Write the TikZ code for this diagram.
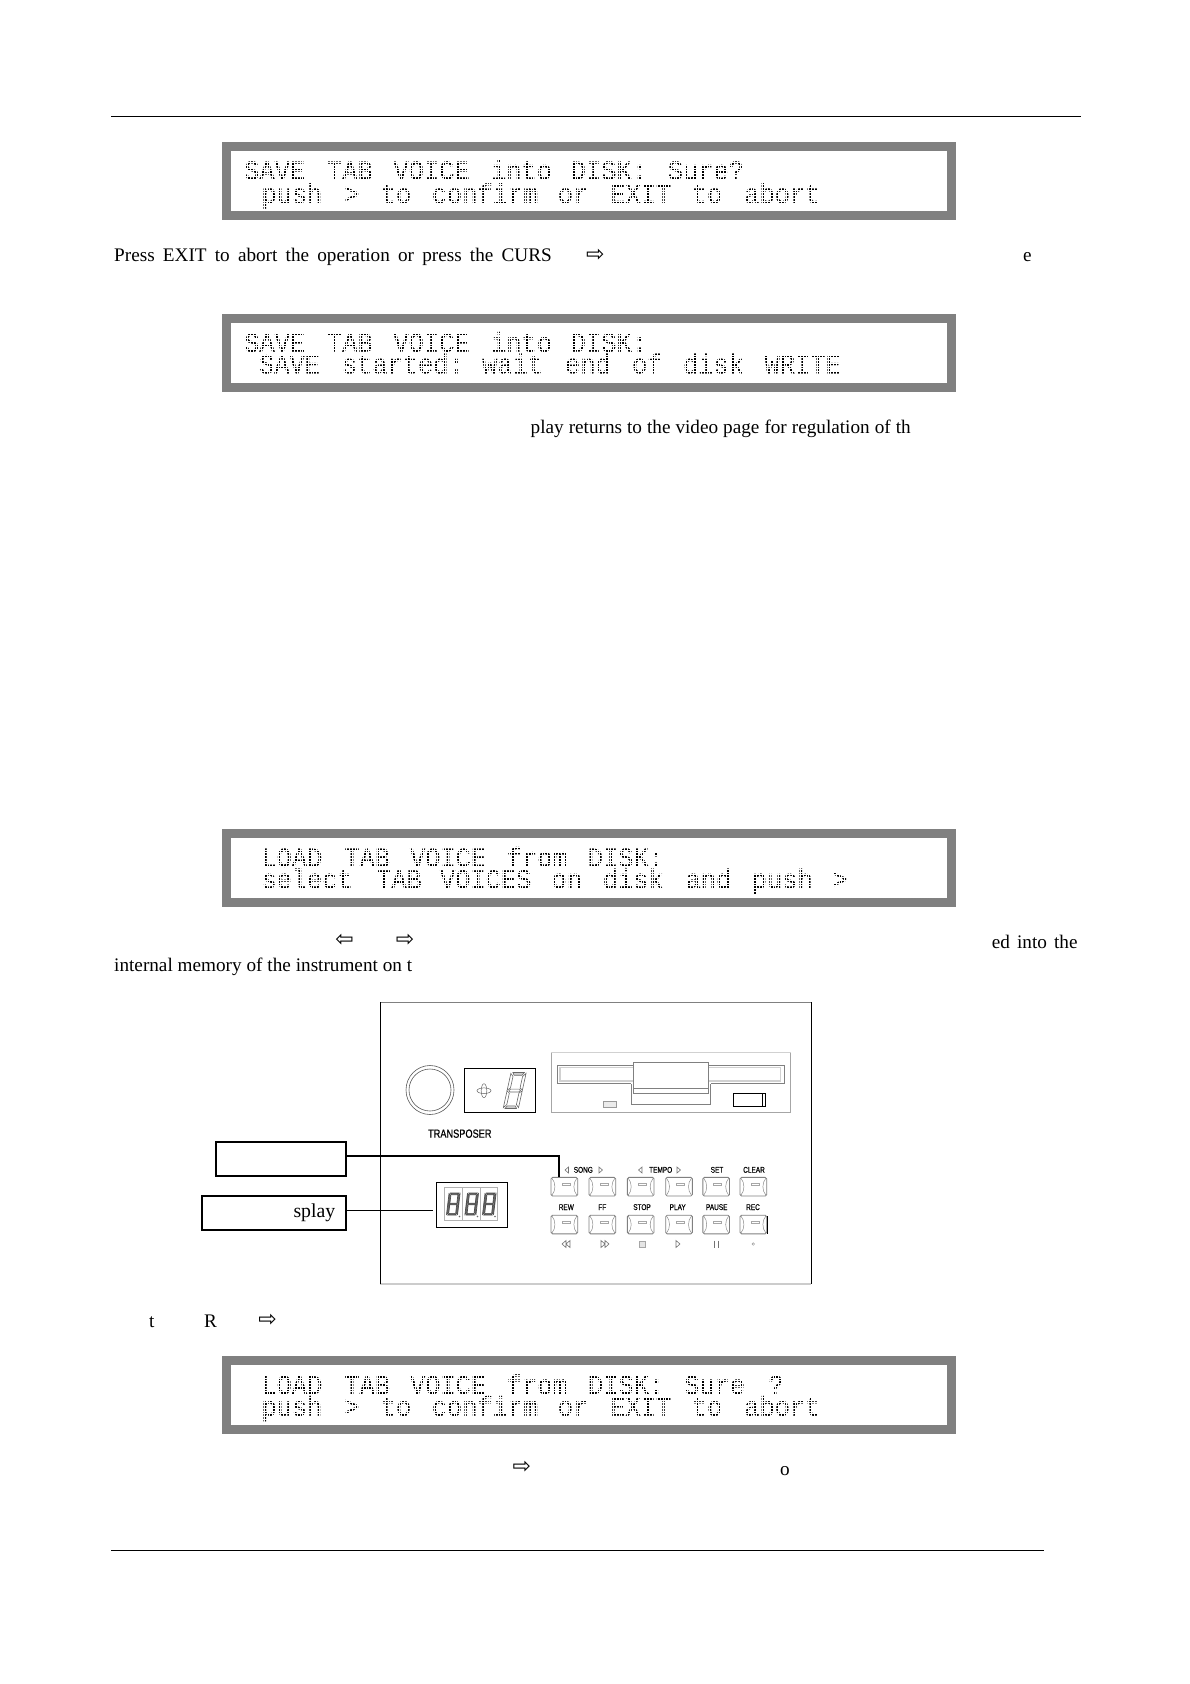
\documentclass[tikz,border=0pt]{standalone}
\usepackage{fontspec}
\setmainfont{Liberation Serif}
\newfontfamily\lcdfont[FakeStretch=.93,FakeBold=.7]{Liberation Mono}
\newfontfamily\panelfont[FakeStretch=.78,FakeBold=.4]{Liberation Sans}
\newfontfamily\arrowfont{DejaVu Sans}
\definecolor{lcdgray}{RGB}{128,128,128}
\tikzset{
  bodytext/.style={anchor=base west,inner sep=0pt,font=\fontsize{19.2}{23}\selectfont},
  arrowglyph/.style={anchor=center,inner sep=0pt,font=\arrowfont\fontsize{22}{24}\selectfont},
  lcdtext/.style={anchor=base west,inner sep=0pt,text=black,font=\lcdfont\fontsize{27.3}{30}\selectfont},
  lcdframe/.style={rectangle,inner sep=0pt,fill=lcdgray,minimum width=733.5pt,minimum height=78pt},
  lcdscreen/.style={rectangle,inner sep=0pt,fill=white,minimum width=715.5pt,minimum height=60pt},
  lcddots/.style={white,line width=.5pt,step=2.75pt},
  calloutbox/.style={rectangle,draw=black,line width=1.7pt,fill=white,inner sep=0pt},
  keylabel/.style={anchor=base,inner sep=0pt,text=black,font=\panelfont\fontsize{8.3}{9}\selectfont},
  btnbox/.style={rectangle,draw=black!50,line width=.8pt,rounded corners=1.5pt,inner sep=0pt,minimum width=26.7pt,minimum height=18.7pt},
  btnline/.style={draw=black!45,line width=.5pt},
  sym/.style={draw=black!55,line width=.6pt},
  seg/.style={draw=black!60,line width=.6pt},
}
% a word of LCD text in a field of fixed width
\newcommand{\lw}[2]{\makebox[#1pt][l]{#2\ }}
% seven-segment digit: centre x, centre y, half width, half height, slant, extra style, outer bar fill, other bar fill
\newcommand{\segdigit}[8]{%
  \begin{scope}[shift={(#1,#2)},xslant=#5,x=#3pt,y=-#4pt,seg,#6]
    \draw[fill=#7] (-.72,-1)--(.72,-1)--(.5,-.85)--(-.5,-.85)--cycle;
    \draw[fill=#8] (-.55,-.08)--(.55,-.08)--(.72,0)--(.55,.08)--(-.55,.08)--(-.72,0)--cycle;
    \draw[fill=#7] (-.72,1)--(.72,1)--(.5,.85)--(-.5,.85)--cycle;
    \draw[fill=#8] (-.95,-.95)--(-.6,-.78)--(-.6,-.14)--(-.95,-.02)--cycle;
    \draw[fill=#8] (.95,-.95)--(.6,-.78)--(.6,-.14)--(.95,-.02)--cycle;
    \draw[fill=#8] (-.95,.95)--(-.6,.78)--(-.6,.14)--(-.95,.02)--cycle;
    \draw[fill=#8] (.95,.95)--(.6,.78)--(.6,.14)--(.95,.02)--cycle;
  \end{scope}}
% keyboard button: name, centre x, centre y
\newcommand{\panelbtn}[3]{%
  \node[btnbox] (#1) at (#2,#3) {};
  \begin{scope}[shift={(#2,#3)}]
    \draw[btnline] (-12.5,-8.5) .. controls (-8.5,-4) and (-8.5,4) .. (-12.5,8.5);
    \draw[btnline] (12.5,-8.5) .. controls (8.5,-4) and (8.5,4) .. (12.5,8.5);
    \draw[draw=black!35,line width=.5pt] (-2.5,-3.4) rectangle (5.5,-1.3);
  \end{scope}}
\begin{document}
\begin{tikzpicture}[x=1pt,y=-1pt]
\useasboundingbox (0,0) rectangle (1190,1684);
% page rules
\draw[black,line width=1pt] (111,116) -- (1080.5,116);
\draw[black,line width=1pt] (111,1550) -- (1044,1550);

% LCD panels
\node[lcdframe] (frameA) at (588.8,181) {};
\node[lcdscreen] (screenA) at (588.8,181) {};
\node[lcdtext] (lcdA1) at (244,179.5) {\lw{82.9}{SAVE}\lw{66.4}{TAB}\lw{97.5}{VOICE}\lw{79.8}{into}\lw{97}{DISK:}Sure?};
\node[lcdtext] (lcdA2) at (261.2,203) {\lw{83}{push}\lw{36.4}{>}\lw{51}{to}\lw{126}{confirm}\lw{52.5}{or}\lw{81.5}{EXIT}\lw{52.5}{to}abort};
\draw[lcddots] (231,211) grid (946,151);

\node[lcdframe] (frameB) at (588.8,353) {};
\node[lcdscreen] (screenB) at (588.8,353) {};
\node[lcdtext] (lcdB1) at (244,351.7) {\lw{82.9}{SAVE}\lw{66.4}{TAB}\lw{97.5}{VOICE}\lw{79.8}{into}DISK:};
\node[lcdtext] (lcdB2) at (258.8,373.3) {\lw{82.9}{SAVE}\lw{140.3}{started:}\lw{82.9}{wait}\lw{67}{end}\lw{51}{of}\lw{81.6}{disk}WRITE};
\draw[lcddots] (231,383) grid (946,323);

\node[lcdframe] (frameC) at (588.8,868) {};
\node[lcdscreen] (screenC) at (588.8,868) {};
\node[lcdtext] (lcdC1) at (261.2,866.7) {\lw{83}{LOAD}\lw{65.6}{TAB}\lw{96.8}{VOICE}\lw{81}{from}DISK:};
\node[lcdtext] (lcdC2) at (261.2,888.3) {\lw{114.8}{select}\lw{63.8}{TAB}\lw{111.6}{VOICES}\lw{51.1}{on}\lw{82.9}{disk}\lw{66.2}{and}\lw{80.5}{push}>};
\draw[lcddots] (231,898) grid (946,838);

\node[lcdframe] (frameD) at (588.8,1395) {};
\node[lcdscreen] (screenD) at (588.8,1395) {};
\node[lcdtext] (lcdD1) at (261.2,1394) {\lw{83}{LOAD}\lw{65.6}{TAB}\lw{96.8}{VOICE}\lw{81.2}{from}\lw{96.3}{DISK:}\lw{84.2}{Sure}?};
\node[lcdtext] (lcdD2) at (261.2,1415.7) {\lw{83}{push}\lw{36.4}{>}\lw{51}{to}\lw{126}{confirm}\lw{52.5}{or}\lw{81.5}{EXIT}\lw{52.5}{to}abort};
\draw[lcddots] (231,1425) grid (946,1365);

% body text fragments
\node[bodytext] (t1) at (114,261) {\makebox[437.6pt][s]{Press EXIT to abort the operation or press the CURS}};
\node[arrowglyph] (a1) at (595.3,255) {⇨};
\node[bodytext] (t2) at (1023,261) {e};
\node[bodytext] (t3) at (530.5,433) {\makebox[380pt][s]{play returns to the video page for regulation of th}};
\node[arrowglyph] (a2) at (344.5,940) {⇦};
\node[arrowglyph] (a3) at (405,940) {⇨};
\node[bodytext] (t4) at (991.7,948) {\makebox[85.6pt][s]{ed into the}};
\node[bodytext] (t5) at (114,971) {\makebox[298pt][s]{internal memory of the instrument on t}};
\node[bodytext] (t6) at (149,1327) {t};
\node[bodytext] (t7) at (204,1327) {R};
\node[arrowglyph] (a4) at (267.7,1320) {⇨};
\node[arrowglyph] (a5) at (521.8,1467.7) {⇨};
\node[bodytext] (t8) at (780,1475) {o};

% device frame
\draw[black!50,line width=.8pt] (380.3,1002.3) -- (811.4,1002.3);
\draw[black!20,line width=1.3pt] (380.3,1284) -- (811.4,1284);
\draw[black,line width=.9pt] (380.3,1002.3) -- (380.3,1284);
\draw[black,line width=.9pt] (811.4,1002.3) -- (811.4,1284);

% knob
\draw[black!65,line width=.6pt] (430,1090) ellipse (24pt and 24.5pt);
\draw[black!65,line width=.6pt] (430,1090) circle (21pt);

% transposer display
\node[rectangle,draw=black,line width=.9pt,inner sep=0pt,minimum width=71.4pt,minimum height=44pt] (transdisp) at (500,1090.3) {};
\draw[black!60,line width=.5pt] (484,1090.7) ellipse (7pt and 2.8pt);
\draw[black!60,line width=.5pt] (484,1090.7) ellipse (2.8pt and 7pt);
\segdigit{514.7}{1090.5}{8}{18}{.22}{}{black!20}{white}
\node[keylabel,font=\panelfont\fontsize{11.8}{13}\selectfont] (translabel) at (459.8,1137.7) {TRANSPOSER};

% floppy drive
\draw[black!35,line width=.7pt] (551,1052.5) rectangle (790.7,1112.7);
\draw[black!18,line width=1.5pt] (551,1052.5) -- (790.7,1052.5);
\draw[black!50,line width=.6pt] (557.3,1065.7) rectangle (784,1083.3);
\draw[black!18,line width=1.4pt] (560,1067.7) rectangle (780.7,1081);
\draw[black!50,fill=white,line width=.6pt] (631,1083.3) -- (631,1104.3) -- (710.7,1104.3) -- (710.7,1083.3) -- cycle;
\draw[white,line width=1pt] (631,1083.3) -- (710.7,1083.3);
\draw[black!50,fill=white,line width=.6pt] (633.3,1062.3) rectangle (708.3,1093.3);
\draw[black!50,line width=.6pt] (633.3,1088.3) -- (708.3,1088.3);
\draw[black!40,fill=black!8,line width=.6pt] (603.3,1101.7) rectangle (616.7,1107);
\draw[black,line width=1pt] (733.3,1093.3) rectangle (765,1106.7);
\draw[black,line width=.7pt] (762.7,1093.3) -- (762.7,1106.7);

% key labels, top row
\node[keylabel] (lsong) at (583.3,1172.7) {SONG};
\node[keylabel] (ltempo) at (660.7,1172.7) {TEMPO};
\node[keylabel] (lset) at (717,1172.7) {SET};
\node[keylabel] (lclear) at (754,1172.7) {CLEAR};
\draw[sym] (568.5,1167)--(568.5,1173)--(565,1170)--cycle;
\draw[sym] (599,1167)--(599,1173)--(602.5,1170)--cycle;
\draw[sym] (642,1167)--(642,1173)--(638.5,1170)--cycle;
\draw[sym] (677,1167)--(677,1173)--(680.5,1170)--cycle;

% buttons
\panelbtn{bsong}{564.4}{1186.7}
\panelbtn{bb}{602.4}{1186.7}
\panelbtn{bc}{640.7}{1186.7}
\panelbtn{bd}{679}{1186.7}
\panelbtn{be}{716.2}{1186.7}
\panelbtn{bf}{753.4}{1186.7}
\panelbtn{brew}{564.4}{1224.5}
\panelbtn{bff}{602.4}{1224.5}
\panelbtn{bstop}{640.7}{1224.5}
\panelbtn{bplay}{679}{1224.5}
\panelbtn{bpause}{716.2}{1224.5}
\panelbtn{brec}{753.4}{1224.5}
\draw[black,line width=.9pt] (767.3,1216) -- (767.3,1233.5);

% key labels, second row
\node[keylabel] (lrew) at (566.3,1210) {REW};
\node[keylabel] (lff) at (602.3,1210) {FF};
\node[keylabel] (lstop) at (642,1210) {STOP};
\node[keylabel] (lplay) at (677.7,1210) {PLAY};
\node[keylabel] (lpause) at (716.7,1210) {PAUSE};
\node[keylabel] (lrec) at (753,1210) {REC};

% transport symbols
\draw[sym] (566,1240.5)--(566,1247.5)--(562,1244)--cycle (570,1240.5)--(570,1247.5)--(566,1244)--cycle;
\draw[sym] (601,1240.5)--(601,1247.5)--(605,1244)--cycle (605,1240.5)--(605,1247.5)--(609,1244)--cycle;
\draw[black!35,fill=black!10,line width=.6pt] (639.7,1241) rectangle (645,1247);
\draw[sym] (676,1240.5)--(676,1247.5)--(680,1244)--cycle;
\draw[sym] (714.7,1240.5)--(714.7,1247.5) (718.7,1240.5)--(718.7,1247.5);
\draw[black!40,line width=.5pt] (753.3,1244) circle (1.3pt);

% three-digit display
\node[rectangle,draw=black,line width=.9pt,inner sep=0pt,minimum width=71.4pt,minimum height=45.4pt] (dispthree) at (472,1205) {};
\draw[black!30,line width=.7pt] (444.3,1187.3) rectangle (497.7,1220.7);
\draw[black!30,line width=.7pt] (462.3,1187.3) -- (462.3,1220.7) (480.7,1187.3) -- (480.7,1220.7);
\segdigit{453.3}{1204}{5.8}{11}{.12}{draw=black!70,line width=.7pt}{black!60}{black!60}
\segdigit{471.7}{1204}{5.8}{11}{.12}{draw=black!70,line width=.7pt}{black!60}{black!60}
\segdigit{489.3}{1204}{5.8}{11}{.12}{draw=black!70,line width=.7pt}{black!60}{black!60}
\fill[black!60] (459.5,1216.5) circle (.8pt) (477.5,1216.5) circle (.8pt) (495,1216.5) circle (.8pt);

% callouts
\node[calloutbox,minimum width=130pt,minimum height=34pt] (boxA) at (280.7,1158.7) {};
\node[calloutbox,minimum width=144pt,minimum height=34pt] (boxB) at (273.7,1213) {};
\node[bodytext,font=\fontsize{19.75}{23}\selectfont] (splay) at (293.3,1217) {splay};
\draw[black,line width=1.7pt] ([yshift=3pt]boxA.east) -| ([xshift=-5.2pt]bsong.north);
\draw[black,line width=.9pt] ([yshift=2.7pt]boxB.east) -- ([xshift=-3.3pt,yshift=-5.3pt]dispthree.west);
\end{tikzpicture}
\end{document}
